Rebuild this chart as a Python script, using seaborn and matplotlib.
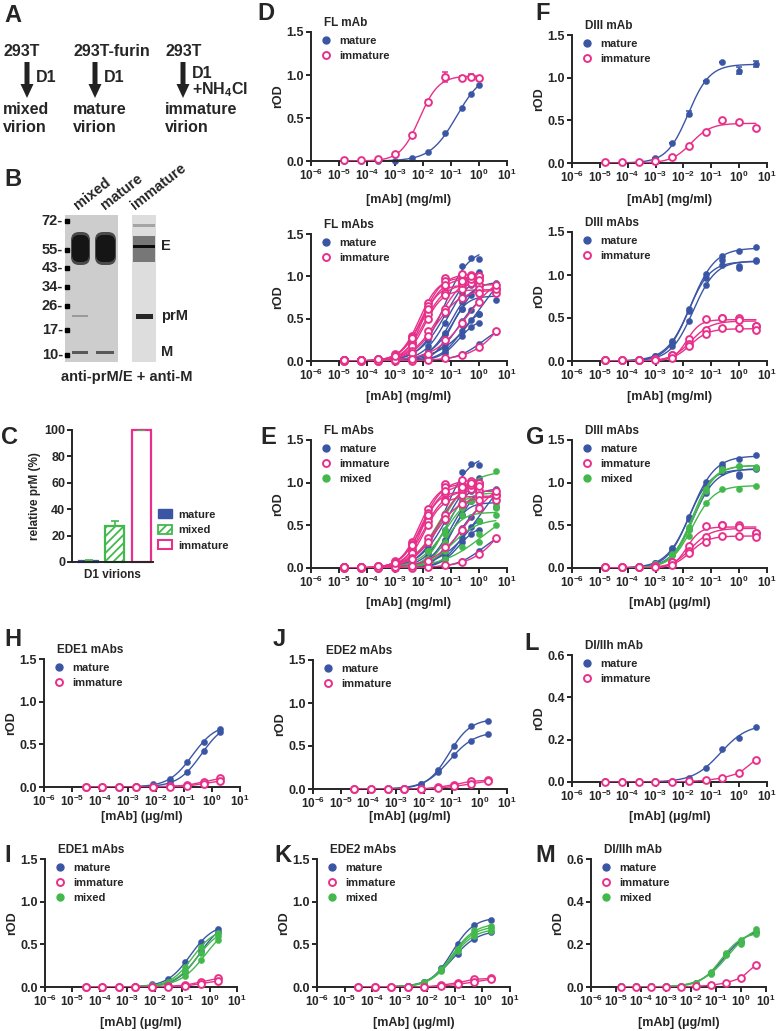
import numpy as np
import pandas as pd
import matplotlib
matplotlib.use("Agg")
import matplotlib.pyplot as plt
from matplotlib.lines import Line2D
from matplotlib.patches import Patch, Rectangle, FancyBboxPatch, FancyArrow
from matplotlib.ticker import NullLocator
import seaborn as sns

W, H = 777, 1031
BLUE = "#3b55a5"
PINK = "#e8308a"
GREEN = "#43b84c"
COLORS = {"mature": BLUE, "mixed": GREEN, "immature": PINK}

# ---- concentrations (high -> low) ----
CONC_FL1 = [1.0, 0.5, 0.25, 0.0625, 0.0156, 0.0039, 0.00098, 0.000244, 6.1e-05, 1.53e-05]
CONC_FL4 = [4.0, 1.0, 0.25, 0.0625, 0.0156, 0.0039, 0.00098, 0.000244, 6.1e-05, 1.53e-05]
CONC_EDE = [2.0, 0.5, 0.125, 0.0313, 0.0078, 0.00195, 0.00049, 0.000122, 3.05e-05]
GRIDS = {"fl1": CONC_FL1, "fl4": CONC_FL4, "ede": CONC_EDE}

# ---- D (top): single FL mAb ----
fl_single_mature = [0.88, 0.78, 0.62, 0.32, 0.10, 0.03, 0.00, 0.00, 0.00, 0.00]
fl_single_immature = [0.97, 0.98, 0.97, 0.98, 0.69, 0.30, 0.08, 0.02, 0.01, 0.01]
fl_single_immature_err = [0.0, 0.03, 0.02, 0.06, 0.02, 0.0, 0.0, 0.0, 0.0, 0.0]

# ---- D (bottom) / E: FL mAbs ----
fl_mature = [
    [1.21, 1.22, 1.12, 0.62, 0.30, 0.10, 0.02, 0.01, 0.00, 0.00],
    [0.88, 0.78, 0.62, 0.32, 0.10, 0.03, 0.00, 0.00, 0.00, 0.00],
    [0.92, 0.87, 0.70, 0.33, 0.12, 0.04, 0.01, 0.00, 0.00, 0.00],
    [0.72, 0.80, 0.62, 0.25, 0.08, 0.02, 0.00, 0.00, 0.00, 0.00],
    [0.95, 0.90, 0.80, 0.45, 0.18, 0.05, 0.01, 0.00, 0.00, 0.00],
    [0.70, 0.60, 0.47, 0.20, 0.06, 0.02, 0.00, 0.00, 0.00, 0.00],
    [0.55, 0.48, 0.35, 0.12, 0.04, 0.01, 0.00, 0.00, 0.00, 0.00],
    [0.45, 0.40, 0.30, 0.10, 0.03, 0.01, 0.00, 0.00, 0.00, 0.00],
    [0.34, 0.20, 0.08, 0.03, 0.01, 0.00, 0.00, 0.00, 0.00, 0.00],
    [0.88, 0.55, 0.42, 0.15, 0.05, 0.01, 0.00, 0.00, 0.00, 0.00],
    [1.05, 1.00, 0.85, 0.55, 0.25, 0.08, 0.02, 0.00, 0.00, 0.00],
]
fl_mature_grid = ["fl1", "fl1", "fl4", "fl4", "fl1", "fl1", "fl1", "fl1", "fl4", "fl4", "fl1"]
fl_immature = [
    [0.97, 0.98, 0.97, 0.98, 0.69, 0.30, 0.08, 0.02, 0.01, 0.01],
    [1.00, 1.02, 1.03, 0.95, 0.65, 0.28, 0.07, 0.02, 0.01, 0.01],
    [0.85, 0.90, 0.92, 0.88, 0.60, 0.22, 0.05, 0.01, 0.01, 0.01],
    [0.90, 0.92, 0.88, 0.80, 0.55, 0.20, 0.05, 0.01, 0.01, 0.01],
    [0.80, 0.85, 0.85, 0.78, 0.50, 0.18, 0.04, 0.01, 0.01, 0.01],
    [1.00, 0.97, 0.92, 0.62, 0.35, 0.12, 0.03, 0.01, 0.01, 0.01],
    [0.85, 0.80, 0.75, 0.58, 0.30, 0.10, 0.03, 0.01, 0.01, 0.01],
    [0.35, 0.16, 0.07, 0.03, 0.01, 0.00, 0.00, 0.00, 0.00, 0.00],
    [0.90, 0.70, 0.45, 0.25, 0.08, 0.02, 0.01, 0.00, 0.00, 0.00],
    [0.96, 1.00, 0.95, 0.90, 0.62, 0.27, 0.06, 0.02, 0.01, 0.01],
]
fl_immature_grid = ["fl1", "fl1", "fl4", "fl1", "fl4", "fl1", "fl4", "fl4", "fl4", "fl1"]
fl_mixed = [
    [1.14, 1.00, 0.93, 0.60, 0.33, 0.12, 0.03, 0.01, 0.00, 0.00],
    [0.75, 0.97, 0.82, 0.40, 0.20, 0.05, 0.02, 0.00, 0.00, 0.00],
    [0.70, 0.55, 0.62, 0.30, 0.10, 0.03, 0.01, 0.00, 0.00, 0.00],
    [0.62, 0.40, 0.45, 0.20, 0.06, 0.02, 0.00, 0.00, 0.00, 0.00],
    [0.50, 0.30, 0.25, 0.10, 0.03, 0.01, 0.00, 0.00, 0.00, 0.00],
    [0.85, 0.78, 0.70, 0.45, 0.20, 0.06, 0.01, 0.00, 0.00, 0.00],
    [1.00, 0.95, 0.90, 0.65, 0.35, 0.12, 0.03, 0.01, 0.00, 0.00],
]
fl_mixed_grid = ["fl4", "fl4", "fl4", "fl4", "fl4", "fl1", "fl1"]

# ---- F (top): single DIII mAb ----
diii_single_mature = [1.16, 1.08, 1.18, 0.96, 0.58, 0.23, 0.06, 0.01, 0.01, 0.01]
diii_single_mature_err = [0.03, 0.04, 0.0, 0.0, 0.03, 0.0, 0.0, 0.0, 0.0, 0.0]
diii_single_immature = [0.41, 0.48, 0.50, 0.36, 0.20, 0.07, 0.02, 0.01, 0.01, 0.01]

# ---- F (bottom) / G: DIII mAbs ----
diii_mature = [
    [1.32, 1.28, 1.22, 1.01, 0.60, 0.22, 0.06, 0.02, 0.01, 0.01],
    [1.16, 1.08, 1.18, 0.96, 0.58, 0.23, 0.06, 0.01, 0.01, 0.01],
    [1.17, 1.10, 1.12, 0.88, 0.46, 0.17, 0.05, 0.01, 0.01, 0.01],
]
diii_immature = [
    [0.41, 0.50, 0.50, 0.49, 0.26, 0.07, 0.02, 0.01, 0.01, 0.01],
    [0.41, 0.48, 0.50, 0.36, 0.20, 0.07, 0.02, 0.01, 0.01, 0.01],
    [0.36, 0.38, 0.38, 0.31, 0.17, 0.04, 0.01, 0.01, 0.01, 0.01],
]
diii_mixed = [
    [1.18, 1.19, 1.16, 0.93, 0.48, 0.16, 0.05, 0.01, 0.01, 0.01],
    [1.17, 1.20, 1.15, 0.90, 0.45, 0.15, 0.04, 0.01, 0.01, 0.01],
    [0.96, 0.93, 0.93, 0.76, 0.38, 0.15, 0.05, 0.01, 0.01, 0.01],
]

# ---- H / I: EDE1 mAbs ----
ede1_mature = [
    [0.68, 0.53, 0.29, 0.09, 0.03, 0.01, 0.00, 0.00, 0.00],
    [0.64, 0.42, 0.17, 0.06, 0.01, 0.00, 0.00, 0.00, 0.00],
]
ede1_immature = [
    [0.10, 0.06, 0.02, 0.01, 0.00, 0.00, 0.00, 0.00, 0.00],
    [0.07, 0.04, 0.01, 0.00, 0.00, 0.00, 0.00, 0.00, 0.00],
]
ede1_mixed = [
    [0.63, 0.47, 0.24, 0.06, 0.02, 0.00, 0.00, 0.00, 0.00],
    [0.60, 0.40, 0.19, 0.05, 0.01, 0.00, 0.00, 0.00, 0.00],
    [0.55, 0.32, 0.13, 0.04, 0.01, 0.00, 0.00, 0.00, 0.00],
]

# ---- J / K: EDE2 mAbs ----
ede2_mature = [
    [0.79, 0.73, 0.50, 0.22, 0.06, 0.015, 0.00, 0.00, 0.00],
    [0.64, 0.56, 0.39, 0.20, 0.055, 0.01, 0.00, 0.00, 0.00],
]
ede2_immature = [
    [0.10, 0.09, 0.05, 0.02, 0.00, 0.00, 0.00, 0.00, 0.00],
    [0.09, 0.06, 0.03, 0.01, 0.00, 0.00, 0.00, 0.00, 0.00],
]
ede2_mixed = [
    [0.71, 0.67, 0.45, 0.21, 0.06, 0.01, 0.00, 0.00, 0.00],
    [0.69, 0.63, 0.44, 0.20, 0.05, 0.01, 0.00, 0.00, 0.00],
    [0.66, 0.60, 0.42, 0.19, 0.05, 0.01, 0.00, 0.00, 0.00],
]

# ---- L / M: DI/IIh mAb ----
dih_mature = [0.26, 0.21, 0.155, 0.067, 0.019, 0.005, 0.005, 0.005, 0.005, 0.005]
dih_immature = [0.105, 0.042, 0.019, 0.008, 0.003, 0.00, 0.00, 0.00, 0.00, 0.00]
dih_mixed = [
    [0.27, 0.20, 0.15, 0.06, 0.02, 0.005, 0.005, 0.005, 0.005, 0.005],
    [0.25, 0.22, 0.16, 0.07, 0.02, 0.005, 0.005, 0.005, 0.005, 0.005],
]

# ---- C: relative prM ----
prm_virions = ["mature", "mixed", "immature"]
prm_values = [1, 27, 100]
prm_err = [0.3, 4, 0]

# ---- B: blot markers ----
blot_markers = [72, 55, 43, 34, 26, 17, 10]
blot_marker_y = [221, 250, 268, 287, 306, 330, 355]

DECADES = [1e-6, 1e-5, 1e-4, 1e-3, 1e-2, 1e-1, 1e0, 1e1]
DECADE_LABELS = [r"$10^{-6}$", r"$10^{-5}$", r"$10^{-4}$", r"$10^{-3}$",
                 r"$10^{-2}$", r"$10^{-1}$", r"$10^{0}$", r"$10^{1}$"]

sns.set_style("ticks")
plt.rcParams["font.family"] = ["Liberation Sans", "DejaVu Sans"]
plt.rcParams["font.weight"] = "bold"
plt.rcParams["axes.labelweight"] = "bold"
plt.rcParams["mathtext.fontset"] = "custom"
plt.rcParams["mathtext.rm"] = "Liberation Sans:bold"
plt.rcParams["mathtext.bf"] = "Liberation Sans:bold"
plt.rcParams["mathtext.it"] = "Liberation Sans:bold"
plt.rcParams["hatch.linewidth"] = 1.3

fig = plt.figure(figsize=(W / 100, H / 100), dpi=100)

# fit grid for 4-parameter logistic (bottom fixed at 0)
C_GRID = np.linspace(-6.5, 2.0, 341)
H_GRID = np.linspace(0.5, 3.0, 101)


def fit_4pl(conc, vals):
    lx = np.log10(np.asarray(conc, float))
    y = np.asarray(vals, float)
    cc, hh = np.meshgrid(C_GRID, H_GRID, indexing="ij")
    s = 1.0 / (1.0 + 10 ** ((cc[..., None] - lx) * hh[..., None]))
    top = (s * y).sum(-1) / (s * s).sum(-1)
    sse = ((top[..., None] * s - y) ** 2).sum(-1)
    i, j = np.unravel_index(np.argmin(sse), sse.shape)
    xs = np.logspace(lx.min(), lx.max(), 150)
    ys = top[i, j] / (1.0 + 10 ** ((C_GRID[i] - np.log10(xs)) * H_GRID[j]))
    return xs, ys


def px_axes(box):
    x0, y0, x1, y1 = box
    return fig.add_axes([x0 / W, 1 - y1 / H, (x1 - x0) / W, (y1 - y0) / H])


def style_axes(ax):
    for s in ("top", "right"):
        ax.spines[s].set_visible(False)
    for s in ("left", "bottom"):
        ax.spines[s].set_linewidth(1.4)
    ax.tick_params(direction="out", length=3.5, width=1.4, pad=1.5)
    ax.patch.set_alpha(0)


def dose_panel(box, series, title, unit, xgap, names, ymax=1.5, yticks=(0.0, 0.5, 1.0, 1.5)):
    ax = px_axes(box)
    style_axes(ax)
    wpx, hpx = box[2] - box[0], box[3] - box[1]
    ax.set_xscale("log")
    pts, fits = [], []
    for k, (grp, conc, vals, fitted, err) in enumerate(series):
        pts.append(pd.DataFrame({"conc": conc, "rod": vals, "grp": grp, "sid": k}))
        xs, ys = fit_4pl(conc, vals) if fitted else (conc, vals)
        fits.append(pd.DataFrame({"conc": xs, "rod": ys, "grp": grp, "sid": k}))
        if err is not None:
            ax.errorbar(conc, vals, yerr=err, fmt="none", ecolor=COLORS[grp],
                        elinewidth=1.1, capsize=2.5, capthick=1.1, zorder=2)
    pts = pd.concat(pts)
    fits = pd.concat(fits)
    for z, grp in enumerate(("mature", "mixed", "immature")):
        f = fits[fits.grp == grp]
        p = pts[pts.grp == grp]
        if f.empty:
            continue
        col = COLORS[grp]
        sns.lineplot(data=f, x="conc", y="rod", units="sid", estimator=None, color=col,
                     lw=1.0, ax=ax, legend=False, zorder=2 + z)
        if grp == "immature":
            sns.scatterplot(data=p, x="conc", y="rod", s=24, facecolor="white", edgecolor=col,
                            linewidth=1.4, ax=ax, legend=False, clip_on=False, zorder=2.5 + z)
        else:
            sns.scatterplot(data=p, x="conc", y="rod", s=20, color=col, edgecolor=col,
                            linewidth=0.3, ax=ax, legend=False, clip_on=False, zorder=2.5 + z)
    ax.set_xlim(1e-6, 1e1)
    ax.set_ylim(0, ymax)
    ax.set_xticks(DECADES)
    ax.set_xticklabels(DECADE_LABELS, fontsize=8.5)
    ax.xaxis.set_minor_locator(NullLocator())
    ax.set_yticks(list(yticks))
    ax.set_yticklabels([f"{t:.1f}" for t in yticks], fontsize=9)
    ax.set_xlabel(f"[mAb] ({unit})", fontsize=9, va="center")
    ax.xaxis.set_label_coords(0.5, -xgap / hpx)
    ax.set_ylabel("rOD", fontsize=9, va="center")
    ax.yaxis.set_label_coords(-33 / wpx, 0.5)
    ax.text(13 / wpx, 1 + 9 / hpx, title, transform=ax.transAxes, fontsize=8.5,
            fontweight="bold", ha="left", va="center")
    handles = []
    for n in names:
        if n == "immature":
            handles.append(Line2D([], [], ls="none", marker="o", ms=5, mfc="white",
                                  mec=PINK, mew=1.4))
        else:
            handles.append(Line2D([], [], ls="none", marker="o", ms=5, color=COLORS[n]))
    ax.legend(handles, names, loc="upper left", bbox_to_anchor=(9 / wpx, 1 - 4 / hpx),
              frameon=False, fontsize=8, borderpad=0, borderaxespad=0, handlelength=1.0,
              handletextpad=0.7, labelspacing=0.45)
    return ax


def group(grp, values, grids, fitted=True):
    return [(grp, GRIDS[g], v, fitted, None) for v, g in zip(values, grids)]


# ---------------- overlay (panels A, B, letters) ----------------
ax0 = fig.add_axes([0, 0, 1, 1])
ax0.set_xlim(0, W)
ax0.set_ylim(H, 0)
ax0.axis("off")

letters = [("A", 13, 15), ("B", 13, 180), ("C", 10, 437), ("D", 266, 13), ("F", 543, 14),
           ("E", 268, 438), ("G", 535, 438), ("H", 13, 640), ("J", 279, 640),
           ("L", 532, 643), ("I", 8, 856), ("K", 283, 856), ("M", 545, 856)]
for s, x, y in letters:
    ax0.text(x, y, s, fontsize=17, fontweight="bold", ha="center", va="center")

# panel A scheme
scheme = [(3, 27, "293T", ["D1"], ["mixed", "virion"]),
          (73, 95, "293T-furin", ["D1"], ["mature", "virion"]),
          (165, 183, "293T", ["D1", "+NH$_4$Cl"], ["immature", "virion"])]
for x, xa, top, mid, bottom in scheme:
    ax0.text(x, 51, top, fontsize=11.5, ha="left", va="center")
    ax0.add_patch(FancyArrow(xa, 62, 0, 36, width=5, head_width=13, head_length=14,
                             length_includes_head=True, color="#222222", lw=0))
    for i, s in enumerate(mid):
        ax0.text(xa + 9, (77 if len(mid) == 1 else 73) + 17 * i, s, fontsize=11.5,
                 ha="left", va="center")
    for i, s in enumerate(bottom):
        ax0.text(x, 110 + 18 * i, s, fontsize=11.5, ha="left", va="center")

# panel B blot
ax0.add_patch(Rectangle((65, 215), 53, 147, fc="#cdcdcd", lw=0))
ax0.add_patch(Rectangle((132, 215), 24, 147, fc="#dddddd", lw=0))
for bx, bw in ((71, 19), (95, 21)):
    ax0.add_patch(FancyBboxPatch((bx, 232), bw, 33, boxstyle="round,pad=0,rounding_size=8",
                                 fc="#4a4a4a", lw=0))
    ax0.add_patch(FancyBboxPatch((bx + 1, 235), bw - 2, 27, boxstyle="round,pad=0,rounding_size=7",
                                 fc="#151515", lw=0))
    ax0.add_patch(Rectangle((bx + 1, 350.5), bw - 3, 3, fc="#585858", lw=0))
ax0.add_patch(Rectangle((72, 314.5), 16, 2.5, fc="#9a9a9a", lw=0))
ax0.add_patch(Rectangle((133, 236), 22, 26, fc="#777777", lw=0))
ax0.add_patch(Rectangle((133, 244.5), 22, 3, fc="#0d0d0d", lw=0))
ax0.add_patch(Rectangle((133, 224), 22, 3, fc="#a5a5a5", lw=0))
ax0.add_patch(Rectangle((136, 313.5), 17, 5, fc="#262626", lw=0))
for m, y in zip(blot_markers, blot_marker_y):
    ax0.text(63, y, f"{m}-", fontsize=10.5, ha="right", va="center")
    ax0.plot(67, y, marker="s", ms=2.5, color="black")
for s, x in (("mixed", 80), ("mature", 107), ("immature", 137)):
    ax0.text(x, 212, s, fontsize=10.5, rotation=38, ha="left", va="bottom",
             rotation_mode="anchor")
for s, y in (("E", 246), ("prM", 316), ("M", 352)):
    ax0.text(161, y, s, fontsize=10.5, ha="left", va="center")
ax0.text(127, 377, "anti-prM/E + anti-M", fontsize=10.5, ha="center", va="center")

# ---------------- panel C ----------------
axc = px_axes((72, 430, 153, 562))
style_axes(axc)
sns.barplot(x=prm_virions, y=prm_values, ax=axc, width=0.73, color="white", errorbar=None)
faces = [BLUE, "white", "white"]
edges = [BLUE, GREEN, PINK]
hatches = [None, "////", None]
for patch, fc, ec, ht in zip(axc.patches, faces, edges, hatches):
    patch.set_facecolor(fc)
    patch.set_edgecolor(ec)
    patch.set_linewidth(1.6)
    patch.set_hatch(ht)
    patch.set_clip_on(False)
axc.errorbar(np.arange(len(prm_values)), prm_values,
             yerr=[np.zeros(len(prm_err)), prm_err], fmt="none", ecolor=GREEN,
             elinewidth=1.2, capsize=3, capthick=1.2)
axc.set_xlim(-0.65, 2.46)
axc.set_ylim(0, 100)
axc.set_yticks([0, 20, 40, 60, 80, 100])
axc.set_yticklabels(["0", "20", "40", "60", "80", "100"], fontsize=9)
axc.set_xticks([])
axc.set_xlabel("D1 virions", fontsize=8.5, va="center")
axc.xaxis.set_label_coords(0.5, -13 / 132)
axc.set_ylabel("relative prM (%)", fontsize=8.5, va="center")
axc.yaxis.set_label_coords(-37 / 81, 0.5)
axc.legend([Patch(fc=BLUE, ec=BLUE),
            Patch(fc="white", ec=GREEN, hatch="////", lw=1.3),
            Patch(fc="white", ec=PINK, lw=1.5)],
           ["mature", "mixed", "immature"], loc="upper left",
           bbox_to_anchor=(1.06, 0.40), frameon=False, fontsize=8, borderpad=0,
           borderaxespad=0, handlelength=1.3, handleheight=0.9, handletextpad=0.5,
           labelspacing=0.45)

# ---------------- dose-response panels ----------------
MG = "mg/ml"
UG = "\u03bcg/ml"

dose_panel((311, 32, 507, 161),
           [("mature", CONC_FL1, fl_single_mature, True, None),
            ("immature", CONC_FL1, fl_single_immature, True, fl_single_immature_err)],
           "FL mAb", MG, 39, ["mature", "immature"])
dose_panel((311, 234, 507, 361),
           group("mature", fl_mature, fl_mature_grid)
           + group("immature", fl_immature, fl_immature_grid),
           "FL mAbs", MG, 36, ["mature", "immature"])
dose_panel((311, 440, 507, 568),
           group("mature", fl_mature, fl_mature_grid)
           + group("mixed", fl_mixed, fl_mixed_grid)
           + group("immature", fl_immature, fl_immature_grid),
           "FL mAbs", MG, 35, ["mature", "immature", "mixed"])

dose_panel((572, 35, 767, 163),
           [("mature", CONC_FL4, diii_single_mature, True, diii_single_mature_err),
            ("immature", CONC_FL4, diii_single_immature, True, None)],
           "DIII mAb", MG, 37, ["mature", "immature"])
dose_panel((572, 232, 767, 361),
           group("mature", diii_mature, ["fl4"] * 3) + group("immature", diii_immature, ["fl4"] * 3),
           "DIII mAbs", MG, 36, ["mature", "immature"])
dose_panel((572, 440, 767, 568),
           group("mature", diii_mature, ["fl4"] * 3) + group("mixed", diii_mixed, ["fl4"] * 3)
           + group("immature", diii_immature, ["fl4"] * 3),
           "DIII mAbs", UG, 35, ["mature", "immature", "mixed"])

dose_panel((44, 659, 240, 787),
           group("mature", ede1_mature, ["ede"] * 2)
           + group("immature", ede1_immature, ["ede"] * 2, fitted=False),
           "EDE1 mAbs", UG, 30, ["mature", "immature"])
dose_panel((313, 660, 507, 789),
           group("mature", ede2_mature, ["ede"] * 2)
           + group("immature", ede2_immature, ["ede"] * 2, fitted=False),
           "EDE2 mAbs", UG, 28, ["mature", "immature"])
dose_panel((572, 655, 767, 782),
           [("mature", CONC_FL4, dih_mature, True, None),
            ("immature", CONC_FL4, dih_immature, False, None)],
           "DI/IIh mAb", UG, 35, ["mature", "immature"], ymax=0.6, yticks=(0.0, 0.2, 0.4, 0.6))

dose_panel((45, 859, 237, 987),
           group("mature", ede1_mature, ["ede"] * 2) + group("mixed", ede1_mixed, ["ede"] * 3)
           + group("immature", ede1_immature, ["ede"] * 2, fitted=False),
           "EDE1 mAbs", UG, 36, ["mature", "immature", "mixed"])
dose_panel((317, 859, 510, 987),
           group("mature", ede2_mature, ["ede"] * 2) + group("mixed", ede2_mixed, ["ede"] * 3)
           + group("immature", ede2_immature, ["ede"] * 2, fitted=False),
           "EDE2 mAbs", UG, 36, ["mature", "immature", "mixed"])
dose_panel((591, 859, 766, 987),
           [("mature", CONC_FL4, dih_mature, True, None)]
           + group("mixed", dih_mixed, ["fl4"] * 2)
           + [("immature", CONC_FL4, dih_immature, False, None)],
           "DI/IIh mAb", UG, 36, ["mature", "immature", "mixed"],
           ymax=0.6, yticks=(0.0, 0.2, 0.4, 0.6))

fig.savefig("out.png", dpi=100)
